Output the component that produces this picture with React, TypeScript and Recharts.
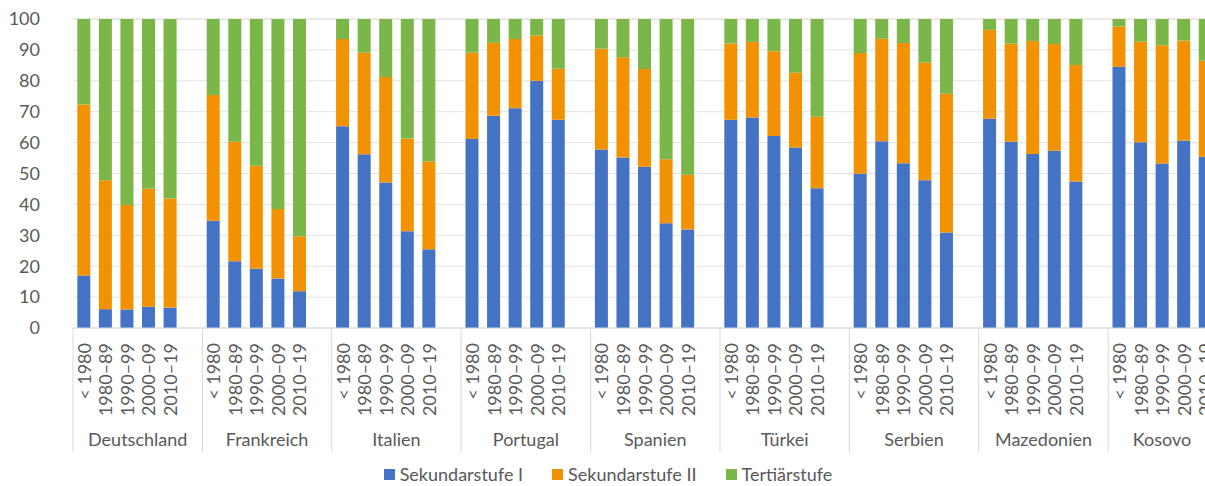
import { BarChart, Bar, XAxis, YAxis, CartesianGrid, Legend } from 'recharts';

const countries = ['Deutschland', 'Frankreich', 'Italien', 'Portugal', 'Spanien', 'Türkei', 'Serbien', 'Mazedonien', 'Kosovo'];
const periods = ['< 1980', '1980–89', '1990–99', '2000–09', '2010–19'];
const yTicks = [0, 10, 20, 30, 40, 50, 60, 70, 80, 90, 100];

// one row per country, one value per period
const sekundarI = [
  [17.0, 6.1, 6.0, 6.9, 6.6],
  [34.7, 21.6, 19.2, 16.0, 11.9],
  [65.3, 56.2, 47.1, 31.3, 25.5],
  [61.2, 68.7, 71.1, 80.0, 67.4],
  [57.8, 55.2, 52.2, 33.9, 31.9],
  [67.4, 68.1, 62.1, 58.4, 45.2],
  [49.9, 60.4, 53.3, 47.8, 30.9],
  [67.7, 60.3, 56.3, 57.4, 47.4],
  [84.5, 60.1, 53.2, 60.6, 55.4],
];
const sekundarII = [
  [55.3, 41.7, 33.8, 38.2, 35.3],
  [40.7, 38.7, 33.3, 22.5, 17.8],
  [28.2, 32.9, 34.1, 30.0, 28.4],
  [27.9, 23.6, 22.4, 14.7, 16.5],
  [32.6, 32.4, 31.6, 20.7, 17.7],
  [24.7, 24.5, 27.5, 24.2, 23.2],
  [39.1, 33.2, 38.9, 38.1, 44.9],
  [28.8, 31.7, 36.6, 34.5, 37.7],
  [13.1, 32.6, 38.3, 32.4, 31.1],
];
const tertiaer = [
  [27.7, 52.2, 60.2, 54.9, 58.1],
  [24.6, 39.7, 47.5, 61.5, 70.3],
  [6.5, 10.9, 18.8, 38.7, 46.1],
  [10.9, 7.7, 6.5, 5.3, 16.1],
  [9.6, 12.4, 16.2, 45.4, 50.4],
  [7.9, 7.4, 10.4, 17.4, 31.6],
  [11.0, 6.4, 7.8, 14.1, 24.2],
  [3.5, 8.0, 7.1, 8.1, 14.9],
  [2.4, 7.3, 8.5, 7.0, 13.5],
];

const series = [
  { key: 's1', name: 'Sekundarstufe I', color: '#4472C4' },
  { key: 's2', name: 'Sekundarstufe II', color: '#F39200' },
  { key: 's3', name: 'Tertiärstufe', color: '#7AB648' },
];

const FONT = 'Lato, "Open Sans", sans-serif';
const TEXT = '#595959';
const LINE = '#D9D9D9';

type Row = { key: string; country: string; period: string; first: boolean; span: number; s1?: number; s2?: number; s3?: number };

// every country gets its five periods plus an empty slot as spacer (not after the last one)
const rows: Row[] = [];
countries.forEach((c, ci) => {
  const last = ci === countries.length - 1;
  const span = last ? periods.length : periods.length + 1;
  periods.forEach((p, pi) => {
    rows.push({
      key: c + '|' + p,
      country: c,
      period: p,
      first: pi === 0,
      span,
      s1: sekundarI[ci][pi],
      s2: sekundarII[ci][pi],
      s3: tertiaer[ci][pi],
    });
  });
  if (!last) rows.push({ key: c + '|gap', country: c, period: '', first: false, span });
});

function PeriodTick(props: any) {
  const { x, y, index, payload } = props;
  const row = rows[index];
  if (!row) return null;
  const half = payload && payload.offset ? payload.offset : 10.8;
  const left = x - half;
  return (
    <g>
      {row.period && (
        <text
          transform={`translate(${x},${y + 15}) rotate(-90)`}
          textAnchor="end"
          dominantBaseline="central"
          fontFamily={FONT}
          fontSize={18}
          fill={TEXT}
        >
          {row.period}
        </text>
      )}
      {row.first && <line x1={left} x2={left} y1={y} y2={y + 124} stroke={LINE} strokeWidth={1} />}
      {row.first && (
        <text
          x={left + row.span * half}
          y={y + 111}
          textAnchor="middle"
          dominantBaseline="central"
          fontFamily={FONT}
          fontSize={18}
          fill={TEXT}
        >
          {row.country}
        </text>
      )}
    </g>
  );
}

function LegendBox() {
  return (
    <div style={{ display: 'flex', justifyContent: 'center', gap: 29, fontFamily: FONT, fontSize: 18, color: TEXT, lineHeight: '22px' }}>
      {series.map((s) => (
        <div key={s.key} style={{ display: 'flex', alignItems: 'center' }}>
          <span style={{ width: 11, height: 11, background: s.color, marginRight: 5, display: 'inline-block' }} />
          {s.name}
        </div>
      ))}
    </div>
  );
}

export default function App() {
  return (
    <div style={{ position: 'absolute', left: 0, top: 0, width: 1205, height: 486, overflow: 'hidden', background: '#fff' }}>
      <BarChart
        width={1239}
        height={485}
        data={rows}
        margin={{ top: 19, right: 23, left: 0, bottom: 0 }}
        barCategoryGap="20%"
      >
        <CartesianGrid vertical={false} stroke="#E3E3E3" />
        <XAxis
          dataKey="key"
          interval={0}
          height={135}
          tickSize={0}
          tickMargin={0}
          tickLine={false}
          axisLine={{ stroke: LINE }}
          tick={<PeriodTick />}
        />
        <YAxis
          width={73}
          domain={[0, 100]}
          ticks={yTicks}
          tickSize={0}
          tickMargin={33}
          tickLine={false}
          axisLine={false}
          tick={{ fontFamily: FONT, fontSize: 18, fill: TEXT }}
        />
        <Legend verticalAlign="bottom" content={<LegendBox />} />
        {series.map((s) => (
          <Bar key={s.key} dataKey={s.key} name={s.name} stackId="a" fill={s.color} isAnimationActive={false} />
        ))}
      </BarChart>
    </div>
  );
}
